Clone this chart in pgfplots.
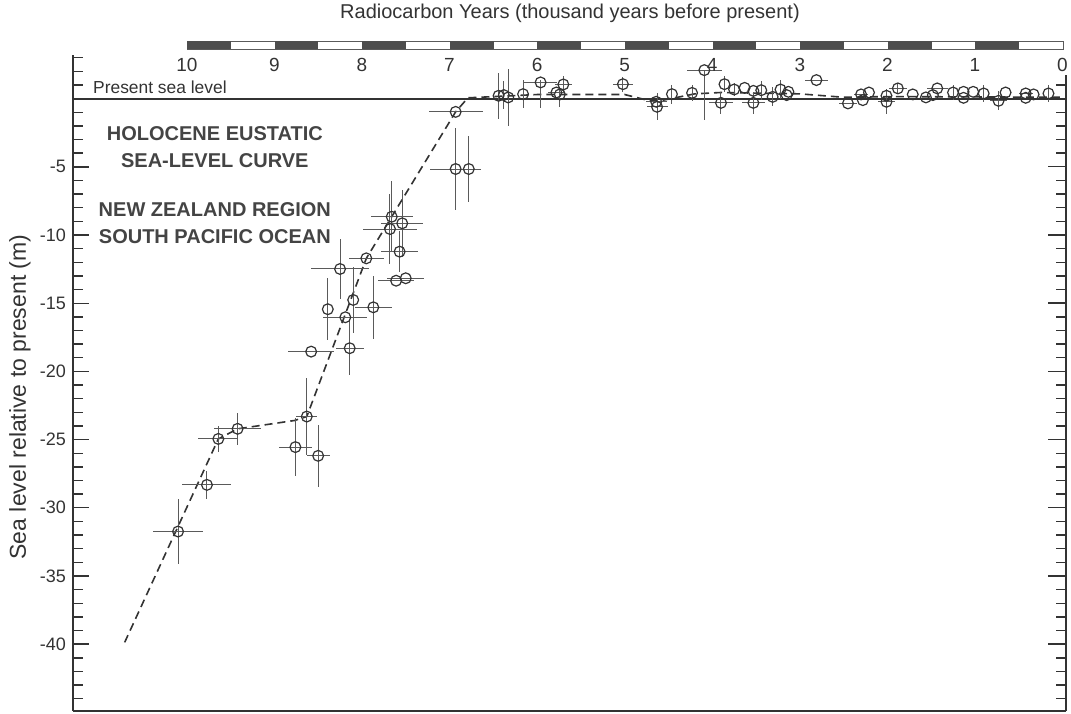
\documentclass[border=0pt]{standalone}
\usepackage{fontspec}
\setmainfont{Liberation Sans}
\usepackage{pgfplots}
\pgfplotsset{compat=1.18}
\usepackage{pgfplotstable}

\definecolor{ink}{HTML}{333333}
\definecolor{errc}{HTML}{5A5A5A}
\definecolor{bardark}{HTML}{4D4D4D}
\definecolor{txt}{HTML}{444444}

\pgfplotstableread{
x y ex eyp eym
10.10 -31.74 0.29 2.4 2.4
9.77 -28.32 0.28 1.05 1.05
9.64 -24.95 0.23 0.95 0.95
9.42 -24.21 0.27 1.17 1.17
8.76 -25.55 0.19 2.1 2.1
8.63 -23.31 0.12 2.8 2.8
8.50 -26.19 0.13 2.25 2.25
8.58 -18.55 0.26 0 0
8.14 -18.30 0.16 2.0 2.0
8.39 -15.44 0 2.27 2.27
8.19 -16.03 0.25 0 0
8.10 -14.76 0 2.4 2.4
7.87 -15.30 0.21 2.33 2.33
8.25 -12.49 0.33 2.2 2.2
7.95 -11.71 0.2 0 0
7.66 -8.66 0.24 2.6 2.6
7.68 -9.56 0.31 2.6 2.6
7.54 -9.14 0.24 2.45 2.45
7.57 -11.22 0.21 1.5 1.5
7.61 -13.35 0.21 0 0
7.50 -13.17 0.21 0 0
6.93 -0.97 0.31 0 0
6.93 -5.16 0.29 3.0 3.0
6.78 -5.16 0.1 2.4 2.4
6.44 0.21 0 1.7 1.7
6.38 0.26 0 1.0 1.0
6.33 0.09 0 2.1 2.1
6.16 0.33 0 1.0 1.0
5.96 1.19 0.19 0.2 1.9
5.70 1.04 0.1 0.65 0.65
5.74 0.31 0 0.45 0.9
5.78 0.45 0.1 0 0
5.02 1.06 0.11 0.55 0.55
4.64 -0.23 0.12 0 0
4.63 -0.60 0.12 1.0 1.0
4.46 0.33 0 0.7 0.7
4.23 0.42 0 0.6 0.6
4.09 2.09 0.2 0 3.66
3.90 -0.31 0.14 0.8 0.8
3.86 1.06 0 0.6 0.6
3.75 0.67 0 0.5 0.5
3.63 0.79 0 0 0
3.53 0.57 0 0 0
3.53 -0.31 0.13 0.8 0.8
3.44 0.62 0 0.7 0.7
3.31 0.13 0 0.7 0.7
3.22 0.67 0 0.7 0.7
3.13 0.50 0 0 0
3.15 0.26 0 0 0
2.81 1.36 0.13 0 0
2.45 -0.35 0.1 0 0
2.28 -0.11 0 0 0
2.30 0.31 0.08 0 0
2.21 0.45 0 0 0
2.01 -0.23 0.1 0.9 0.9
2.01 0.21 0 0 0
1.88 0.75 0.1 0.4 0.4
1.71 0.31 0 0 0
1.56 0.09 0 0 0
1.48 0.26 0 0 0
1.43 0.75 0.12 0 0
1.25 0.45 0 0.55 0.55
1.13 0.50 0 0 0
1.13 0.06 0 0 0
1.02 0.50 0 0 0
0.90 0.38 0 0.6 0.6
0.73 -0.16 0.1 0.7 0.7
0.65 0.45 0 0 0
0.42 0.06 0 0 0
0.42 0.38 0.08 0 0
0.33 0.31 0 0 0
0.16 0.38 0 0.6 0.6
}\pts

\pgfplotstableread{
x y
10.71 -39.87
9.64 -24.95
9.42 -24.21
8.77 -23.60
8.63 -23.31
7.95 -11.71
6.93 -0.97
6.79 0.06
6.00 0.30
5.00 0.30
4.72 -0.15
4.55 -0.10
4.20 0.35
3.90 0.45
3.00 0.35
2.50 0.10
2.00 0.15
0.00 0.10
}\curve

\begin{document}
\begin{tikzpicture}
\path[use as bounding box] (-36.5pt,-1pt) rectangle (499pt,355.5pt);
\begin{axis}[
  scale only axis, width=496.5pt, height=328pt,
  xmin=-0.04, xmax=11.30, ymin=-44.9, ymax=3.2,
  x dir=reverse,
  axis x line*=bottom, axis y line*=left,
  axis line style={ink, line width=0.8pt},
  xtick=\empty,
  ytick={-40,-35,...,-5},
  yticklabels={-40,-35,-30,-25,-20,-15,-10,-5},
  minor ytick={-44,-43,...,3},
  tick align=inside,
  major tick length=8pt, minor tick length=5pt,
  every tick/.style={ink, line width=0.7pt},
  yticklabel style={font=\fontsize{9}{10}\selectfont, text=ink},
  clip=false,
]
\addplot[ink, line width=0.9pt] coordinates {(11.30,0) (-0.04,0)};
\addplot[ink, line width=0.8pt, dash pattern=on 4pt off 2.5pt] table[x=x,y=y]{\curve};
\addplot[only marks, mark=o, mark size=2.7pt, mark options={ink, line width=0.6pt},
  error bars/.cd, x dir=both, x explicit, y dir=both, y explicit,
  error mark=none, error bar style={errc, line width=0.5pt}]
  table[x=x, y=y, x error=ex, y error plus=eyp, y error minus=eym]{\pts};
\pgfplotsinvokeforeach{0,1,...,10}{
  \node[font=\fontsize{9.5}{10}\selectfont, text=ink] at (axis cs:#1,2.45) {#1};
}
\node[anchor=base west, font=\fontsize{8.7}{10}\selectfont, text=ink] at (axis cs:11.15,0.38) {Present sea level};
\node[align=center, font=\fontsize{10}{13.5}\selectfont\bfseries, text=txt] at (axis cs:9.68,-3.52) {HOLOCENE EUSTATIC\\SEA-LEVEL CURVE};
\node[align=center, font=\fontsize{10}{13.5}\selectfont\bfseries, text=txt] at (axis cs:9.68,-9.16) {NEW ZEALAND REGION\\SOUTH PACIFIC OCEAN};
\end{axis}
% right-hand axis, shorter than the left one
\begin{axis}[
  scale only axis, width=496.5pt, height=317.8pt,
  xmin=-0.04, xmax=11.30, ymin=-44.9, ymax=1.7,
  x dir=reverse,
  axis x line=none, axis y line*=right,
  axis line style={ink, line width=0.8pt},
  ytick={-40,-35,...,-5}, yticklabels={},
  yticklabel style={inner sep=0pt, xshift=-40pt},
  minor ytick={-44,-43,...,1},
  tick align=inside,
  major tick length=9pt, minor tick length=5pt,
  every tick/.style={ink, line width=0.7pt},
]
\addplot[draw=none] coordinates {(5,-10)};
\end{axis}
% scale bar above the axis
\draw[errc, line width=0.4pt] (57pt,331pt) rectangle (495pt,335pt);
\foreach \i in {0,...,9} {
  \fill[bardark] ({57pt+\i*43.8pt},331pt) rectangle ({57pt+\i*43.8pt+21.9pt},335pt);
}
\node[font=\fontsize{10}{12}\selectfont, text=ink] at (248.5pt,349pt) {Radiocarbon Years (thousand years before present)};
\node[rotate=90, font=\fontsize{11.5}{13}\selectfont, text=ink] at (-26.5pt,157pt) {Sea level relative to present (m)};
\end{tikzpicture}
\end{document}
